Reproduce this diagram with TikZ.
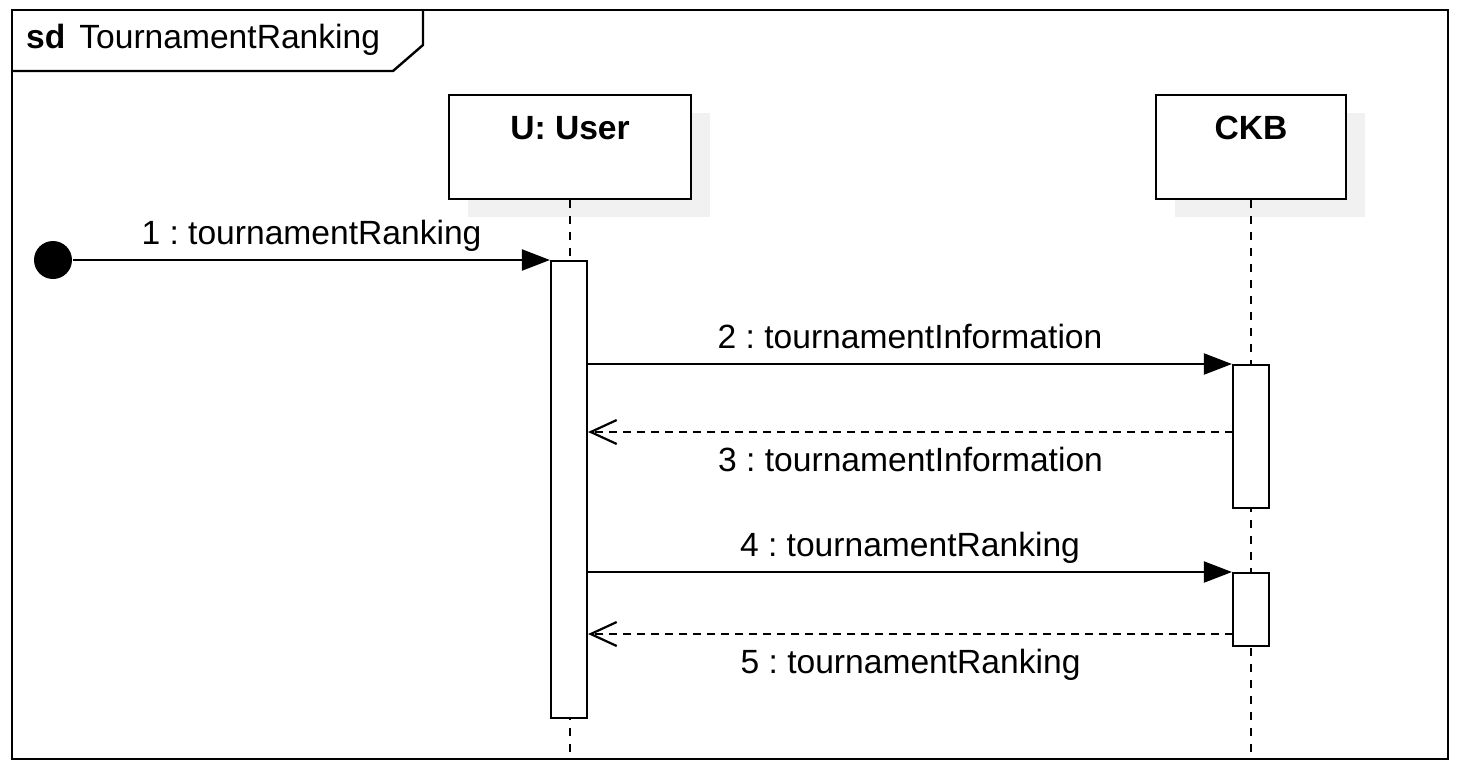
\documentclass[tikz,border=0pt]{standalone}
\usepackage{fontspec}
\setmainfont{Liberation Sans}
\usetikzlibrary{arrows.meta,positioning,shadows}
\definecolor{ShadowGray}{RGB}{241,241,241}
\frenchspacing

\begin{document}
\begin{tikzpicture}[x=0.5pt,y=-0.5pt,line width=1.1pt,
  font=\fontsize{16.8}{20}\selectfont,
  headbox/.style={draw,fill=white,inner sep=0pt,minimum width=#1,anchor=north,
    text height=22pt,text depth=30pt,font=\fontsize{16.8}{20}\selectfont\bfseries,
    drop shadow={shadow xshift=9.5pt,shadow yshift=-9pt,fill=ShadowGray,opacity=1,draw=none}},
  actbar/.style={draw,fill=white,inner sep=0pt,minimum width=18pt,minimum height=#1,anchor=north},
  lifeline/.style={dash pattern=on 4pt off 4pt},
  call/.style={-{Triangle[length=14pt,width=10.5pt]}},
  reply/.style={dash pattern=on 4pt off 3pt,-{Straight Barb[length=13pt,width=12pt]}},
  msgabove/.style={anchor=south,inner sep=0pt,yshift=3pt,text height=12pt,text depth=4pt},
  msgbelow/.style={anchor=north,inner sep=0pt,yshift=-7pt,text height=12pt,text depth=4pt}]
  \useasboundingbox (0,0) rectangle (1466,772);
  % frame with its name tab
  \draw[line width=1.2pt] (12,10) rectangle (1448,759);
  \draw[line width=1.2pt] (12,71) -- (393,71) -- (423,45) -- (423,10);
  \node[anchor=base west,inner sep=0pt] (title) at (25,48) {\textbf{sd}\hspace{7pt}TournamentRanking};
  % lifeline heads
  \node[headbox=121pt] (user) at (570,94) {U: User};
  \node[headbox=95pt] (ckb) at (1251,94) {CKB};
  \coordinate (userEnd) at (570,759);
  \coordinate (ckbEnd) at (1251,759);
  \draw[lifeline] (user.south) -- (userEnd);
  \draw[lifeline] (ckb.south) -- (ckbEnd);
  % activations
  \node[actbar=228.5pt] (actU) at (569,260) {};
  \node[actbar=71.5pt] (actC1) at (1251,364) {};
  \node[actbar=36.5pt] (actC2) at (1251,572) {};
  % messages
  \node[circle,fill,inner sep=0pt,minimum size=19pt] (start) at (53,260) {};
  \draw[call] (start) -- (actU.north west) node[msgabove,midway] {1 : tournamentRanking};
  \draw[call] (actU.east |- actC1.north west) -- (actC1.north west)
    node[msgabove,midway] {2 : tournamentInformation};
  \coordinate (back3) at (1233,432);
  \draw[reply] (back3) -- (actU.east |- back3) node[msgbelow,midway] {3 : tournamentInformation};
  \draw[call] (actU.east |- actC2.north west) -- (actC2.north west)
    node[msgabove,midway] {4 : tournamentRanking};
  \coordinate (back5) at (1233,634);
  \draw[reply] (back5) -- (actU.east |- back5) node[msgbelow,midway] {5 : tournamentRanking};
\end{tikzpicture}
\end{document}
